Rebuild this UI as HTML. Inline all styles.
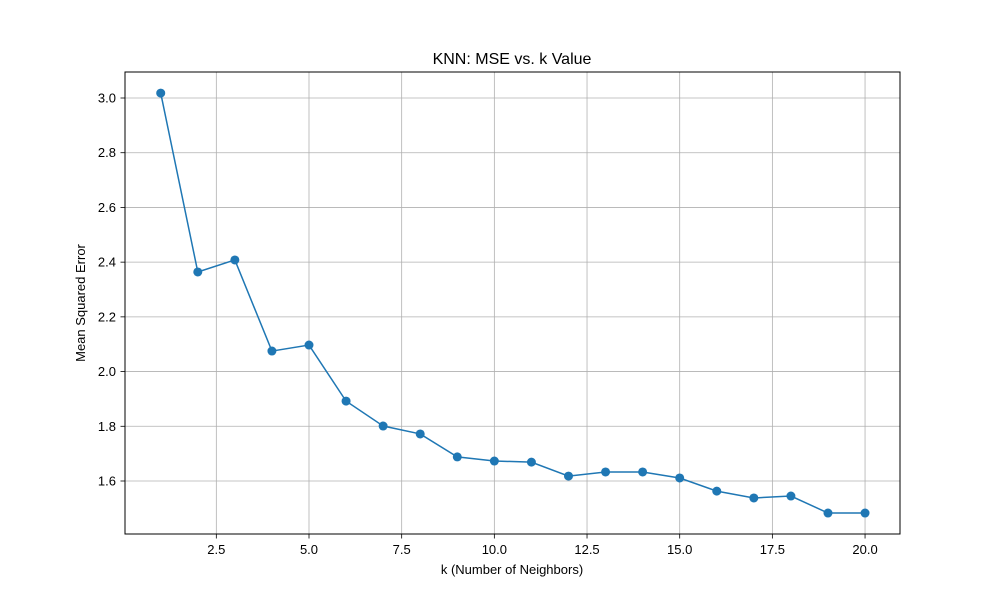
<!DOCTYPE html>
<html><head><meta charset="utf-8"><style>
body{margin:0;background:#fff;}
svg text{font-family:"Liberation Sans","DejaVu Sans",sans-serif;fill:#000;}
</style></head><body>
<svg id="chart" width="1000" height="600" xmlns="http://www.w3.org/2000/svg">
<rect width="1000" height="600" fill="#fff"/>
<g id="grid"></g>
<g id="ticks"></g>
<g id="series"></g>
<rect x="125" y="72" width="775" height="462" fill="none" stroke="#000" stroke-width="1"/>
<text x="512" y="64" text-anchor="middle" font-size="16">KNN: MSE vs. k Value</text>
<text x="512" y="574" text-anchor="middle" font-size="13">k (Number of Neighbors)</text>
<text transform="translate(85,303) rotate(-90)" text-anchor="middle" font-size="13">Mean Squared Error</text>
</svg>
<script>
const kValues=[1,2,3,4,5,6,7,8,9,10,11,12,13,14,15,16,17,18,19,20];
const mseValues=[3.018,2.364,2.408,2.075,2.097,1.892,1.801,1.772,1.688,1.673,1.669,1.618,1.633,1.633,1.611,1.563,1.538,1.545,1.483,1.483];
const xTicks=[2.5,5.0,7.5,10.0,12.5,15.0,17.5,20.0];
const yTicks=[1.6,1.8,2.0,2.2,2.4,2.6,2.8,3.0];
const NS="http://www.w3.org/2000/svg";
function xs(v){return 309+(v-5)*37.07;}
function ys(v){return 481-(v-1.6)*273.57;}
function mk(tag,attrs,parent){const e=document.createElementNS(NS,tag);for(const k in attrs)e.setAttribute(k,attrs[k]);parent.appendChild(e);return e;}
const grid=document.getElementById('grid'),ticks=document.getElementById('ticks'),series=document.getElementById('series');
xTicks.forEach(t=>{const x=xs(t);
 const g=mk('line',{x1:x,x2:x,y1:72,y2:534,stroke:'#b0b0b0','stroke-width':0.8},grid);
 
 
 const tk=mk('line',{x1:x,x2:x,y1:534,y2:538.5,stroke:'#000','stroke-width':0.8},ticks);
 
 
 const tx=mk('text',{x:x,y:554,'text-anchor':'middle','font-size':13},ticks);tx.textContent=t.toFixed(1);
 
 
});
yTicks.forEach(t=>{const y=ys(t);
 const g=mk('line',{x1:125,x2:900,y1:y,y2:y,stroke:'#b0b0b0','stroke-width':0.8},grid);
 
 
 const tk=mk('line',{x1:120.5,x2:125,y1:y,y2:y,stroke:'#000','stroke-width':0.8},ticks);
 
 
 const tx=mk('text',{x:116,y:y+4.5,'text-anchor':'end','font-size':13},ticks);tx.textContent=t.toFixed(1);
 
 
});
const pts=kValues.map((k,i)=>xs(k)+','+ys(mseValues[i])).join(' ');
const line=mk('polyline',{points:pts,fill:'none',stroke:'#1f77b4','stroke-width':1.5},series);


kValues.forEach((k,i)=>{const c=mk('circle',{cx:xs(k),cy:ys(mseValues[i]),r:4.5,fill:'#1f77b4'},series);
 
 
});
</script>
</body></html>
